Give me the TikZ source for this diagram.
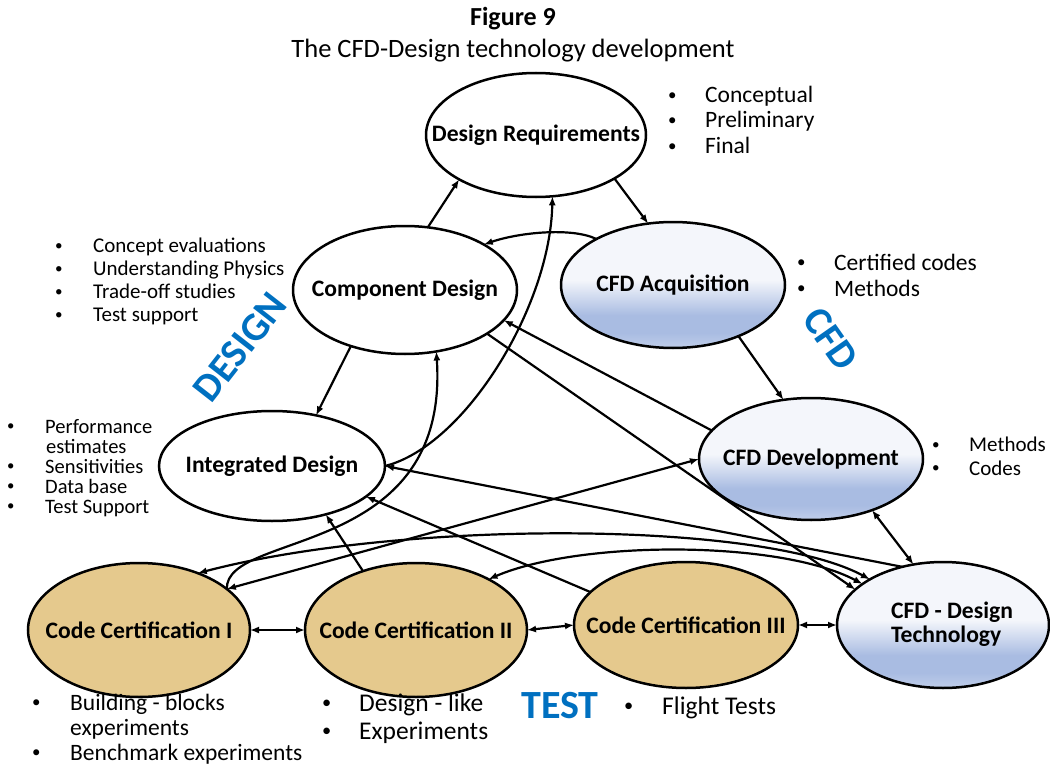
\documentclass[tikz,border=0pt]{standalone}
\usepackage{fontspec}
\usepackage{graphicx}
\setmainfont{Carlito}
\usetikzlibrary{shapes.geometric,arrows.meta}
\definecolor{papyrus}{HTML}{E5C98D}
\definecolor{cfdtop}{HTML}{F4F6FB}
\definecolor{cfdmid}{HTML}{A9BCE2}
\definecolor{cfdbot}{HTML}{C0CEEA}
\definecolor{tagblue}{HTML}{0070C0}
\pgfdeclareverticalshading{cfdshade}{100bp}{color(0bp)=(cfdbot); color(25bp)=(cfdbot); color(31bp)=(cfdmid); color(38bp)=(cfdmid); color(52bp)=(cfdtop); color(100bp)=(cfdtop)}
\newcommand\mybul[1][37pt]{\makebox[#1][l]{\raisebox{0.1em}{\scalebox{0.72}{•}}}}
\newcommand\fsz[2]{\fontsize{#1}{#2}\selectfont}
\newcommand\ntext[1]{\makebox[0pt]{#1}}
\begin{document}
\begin{tikzpicture}[x=1pt,y=-1pt,
  ell/.style={ellipse, draw=black, line width=2.5pt, inner sep=0pt, outer sep=0pt, font=\fsz{23.6}{26}\bfseries},
  cfd/.style={ell, shading=cfdshade},
  cert/.style={ell, fill=papyrus},
  plain/.style={ell, fill=white},
  conn/.style={line width=2.2pt, -{Latex[length=9pt,width=7pt]}},
  dconn/.style={line width=2.2pt, {Latex[length=9pt,width=7pt]}-{Latex[length=9pt,width=7pt]}},
  lst/.style={anchor=base west, inner sep=0pt},
  tag/.style={text=tagblue, font=\fsz{40}{40}\bfseries, inner sep=0pt}
]
\useasboundingbox (0,0) rectangle (1050,765);

% titles
\node[anchor=base, inner sep=0pt, font=\fsz{26}{30}\bfseries] (fig) at (513,26) {Figure 9};
\node[anchor=base, inner sep=0pt, font=\fsz{26.5}{30}] (title) at (513,58) {The CFD-Design technology development};

% nodes
\node[plain, minimum width=220pt, minimum height=124pt] (dr) at (536,135) {\ntext{Design Requirements}};
\node[plain, minimum width=224pt, minimum height=128pt] (cd) at (405,290) {\ntext{Component Design}};
\node[cfd, minimum width=224pt, minimum height=126pt] (acq) at (673,285) {\ntext{CFD Acquisition}};
\node[cfd, minimum width=224pt, minimum height=122pt] (dev) at (811,459) {\ntext{CFD Development}};
\node[plain, minimum width=226pt, minimum height=110pt] (id) at (272,466) {\ntext{Integrated Design}};
\node[cert, minimum width=222pt, minimum height=134pt] (c1) at (139,630) {\ntext{Code Certification I}};
\node[cert, minimum width=222pt, minimum height=134pt] (c2) at (416,630) {\ntext{Code Certification II}};
\node[cert, minimum width=224pt, minimum height=126pt] (c3) at (686,625) {\ntext{Code Certification III}};
\node[cfd, minimum width=212pt, minimum height=126pt] (dt) at (943,625) {\ntext{\hspace{18pt}\begin{tabular}{@{}l@{}}CFD - Design\\[-2pt]Technology\end{tabular}}};

% connectors
\draw[conn] (cd.70) -- (dr.210);
\draw[conn] (dr.-29) -- (acq.112);
\draw[conn] (acq.149) .. controls +(-25,-12) and +(35,-12) .. (cd.30);
\draw[conn] (id.0) .. controls +(80,-20) and +(-2,110) .. (dr.285);
\draw[conn] (c1.25) .. controls (225,530) and (450,560) .. (cd.-63);
\draw[conn] (cd.226) -- (id.49);
\draw[conn] (c2.132) -- (id.-42);
\draw[conn] (c3.161) -- (id.-18);
\draw[conn] (dt.125) -- (id.0);
\draw[conn] (cd.-28) -- (dt.158);
\draw[conn] (dev.164) -- (cd.-17);
\draw[conn] (acq.-38) -- (dev.115);
\draw[dconn] (c1.25) -- (dev.180);
\draw[dconn] (c1.44) .. controls (400,520) and (760,520) .. (dt.148);
\draw[dconn] (c2.35) .. controls (580,540) and (780,540) .. (dt.153);
\draw[dconn] (dev.-40) -- (dt.116);
\draw[dconn] (c1.0) -- (c2.180);
\draw[dconn] (c2.0) -- (c3.180);
\draw[dconn] (c3.0) -- (dt.180);

% lists
\begin{scope}[every node/.style={lst, font=\fsz{23.5}{26}}]
\node (dra) at (668,102.5) {\mybul Conceptual};
\node (drb) at (668,128) {\mybul Preliminary};
\node (drc) at (668,153.5) {\mybul Final};
\node (acqa) at (797,270) {\mybul Certified codes};
\node (acqb) at (797,296) {\mybul Methods};
\node (c1a) at (32,710) {\mybul[38pt]Building - blocks};
\node (c1b) at (70,735) {experiments};
\node (c1c) at (32,760) {\mybul[38pt]Benchmark experiments};
\end{scope}
\begin{scope}[every node/.style={lst, font=\fsz{21}{23}}]
\node (cda) at (55,252.5) {\mybul[38pt]Concept evaluations};
\node (cdb) at (55,275.5) {\mybul[38pt]Understanding Physics};
\node (cdc) at (55,298.5) {\mybul[38pt]Trade-off studies};
\node (cdd) at (55,321.5) {\mybul[38pt]Test support};
\node (deva) at (932,451.5) {\mybul Methods};
\node (devb) at (932,475) {\mybul Codes};
\end{scope}
\begin{scope}[every node/.style={lst, font=\fsz{20.5}{22}}]
\node (ida) at (7,433) {\mybul[38pt]Performance};
\node (idb) at (46,453) {estimates};
\node (idc) at (7,473) {\mybul[38pt]Sensitivities};
\node (idd) at (7,493) {\mybul[38pt]Data base};
\node (ide) at (7,513) {\mybul[38pt]Test Support};
\end{scope}
\begin{scope}[every node/.style={lst, font=\fsz{25.5}{28}}]
\node (c2a) at (322,711) {\mybul[37pt]Design - like};
\node (c2b) at (322,739) {\mybul[37pt]Experiments};
\node (c3a) at (624,714) {\mybul[38pt]Flight Tests};
\end{scope}

% area tags
\node[tag, anchor=base] (test) at (560,718) {TEST};
\node[tag, rotate=52] (design) at (240,347) {DESIGN};
\node[tag, rotate=-55] (cfdtag) at (831,339) {CFD};
\end{tikzpicture}
\end{document}
